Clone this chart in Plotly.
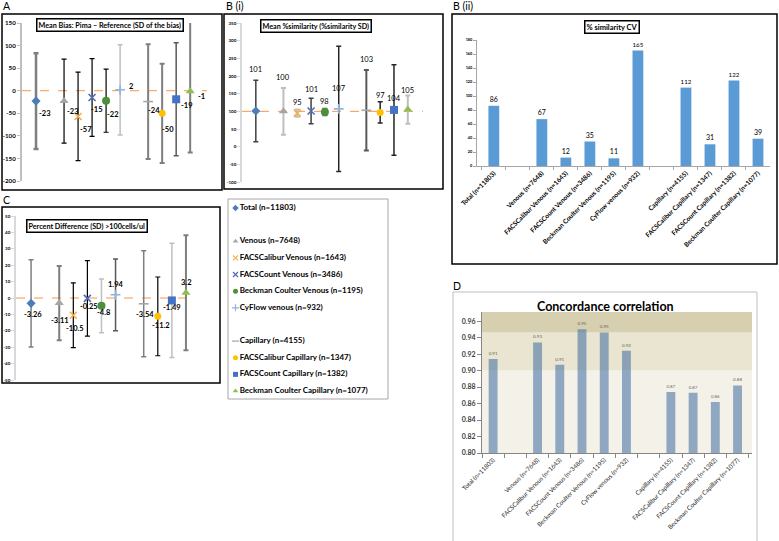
import plotly.graph_objects as go

W, H = 779, 541

# ---------------- data ----------------
categories = ["Total (n=11803)", " ", "Venous (n=7648)", "FACSCalibur Venous (n=1643)",
              "FACSCount Venous (n=3486)", "Beckman Coulter Venous (n=1195)", "CyFlow venous (n=932)",
              "  ", "Capillary (n=4155)", "FACSCalibur Capillary (n=1347)",
              "FACSCount Capillary (n=1382)", "Beckman Coulter Capillary (n=1077)"]

bias_mean = [-23, None, -23, -57, -15, -22, 2, None, -24, -50, -19, -1]
bias_sd_plus = [106, None, 93, 98, 86, 70, 100, None, 127, 110, 125, 160]
bias_sd_minus = [106, None, 93, 98, 86, 70, 100, None, 127, 110, 125, 136]

sim_mean = [101, None, 100, 95, 101, 98, 107, None, 103, 97, 104, 105]
sim_sd = [87, None, 66, 10, 36, 10, 177, None, 114, 30, 128, 40]

sim_cv = [86, None, 67, 12, 35, 11, 165, None, 112, 31, 122, 39]

pdiff_mean = [-3.26, None, -3.11, -10.5, -0.25, -4.8, 1.94, None, -3.54, -11.2, -1.49, 3.2]
pdiff_sd = [26.6, None, 22.6, 19.7, 23.0, 16.4, 21.9, None, 32.3, 24.0, 34.8, 35.0]

ccc = [0.914, None, 0.934, 0.907, 0.950, 0.946, 0.924, None, 0.874, 0.873, 0.862, 0.882]

ticks_a = [-200, -150, -100, -50, 0, 50, 100, 150]
ticks_b1 = [-100, -50, 0, 50, 100, 150, 200, 250, 300, 350]
ticks_b2 = [0, 20, 40, 60, 80, 100, 120, 140, 160, 180]
ticks_c = [-50, -40, -30, -20, -10, 0, 10, 20, 30, 40, 50]
ticks_d = [0.80, 0.82, 0.84, 0.86, 0.88, 0.90, 0.92, 0.94, 0.96]

# ---------------- styles ----------------
FONT = "Lato"
symbols = ["diamond", None, "triangle-up", "x-thin-open", "x-thin-open", "circle", "cross-thin-open",
           None, "line-ew-open", "circle", "square", "triangle-up"]
colors = ["#4a7ebb", None, "#a5a5a5", "#f4b04f", "#4f6bb5", "#4e8f3a", "#8db4e2",
          None, "#a5a5a5", "#ffc000", "#4472c4", "#8cc152"]
sizes = [7, None, 8, 7, 7, 8, 7, None, 7, 7, 8, 8]

errcol_a = ["#7f7f7f", None, "#000000", "#000000", "#000000", "#000000", "#bfbfbf", None,
            "#7f7f7f", "#7f7f7f", "#595959", "#7f7f7f"]
errw_a = [2.5, None, 1.2, 1.2, 1.2, 1.2, 1.5, None, 2, 2, 1.5, 2]
lab_a = [(1, -12), None, (1, -10), (0, -13), (-3, -12), (-1, -14), (7, 3), None, (-2, -9), (-2, -16), (3, -6), (6, -5)]

errcol_b = ["#404040", None, "#bfbfbf", "#bfbfbf", "#404040", "#595959", "#262626", None,
            "#595959", "#262626", "#262626", "#bfbfbf"]
errw_b = [1.5, None, 2, 2, 1.5, 1.5, 1.5, None, 2, 1.5, 1.5, 2]
lab_b = [41, None, 34, 11, 21, 11, 20, None, 51, 17, 11, 19]

errcol_c = ["#7f7f7f", None, "#7f7f7f", "#000000", "#000000", "#bfbfbf", "#595959", None,
            "#7f7f7f", "#000000", "#bfbfbf", "#7f7f7f"]
errw_c = [1.5, None, 2, 1.2, 1.2, 1.5, 1.5, None, 1.5, 1.2, 1.5, 2]
lab_c = [(2, -11), None, (1, -17), (2, -13), (2, -8), (3, -7), (0, 10), None, (1, -11), (3, -9), (0, -7), (0, 10)]


def X(a, b):
    return [a / W, b / W]


def Y(top, bottom):
    return [1 - bottom / H, 1 - top / H]


def px(x, y):
    return x / W, 1 - y / H


def fmt(v):
    return str(v).replace("\u2212", "-")


fig = go.Figure()
annotations = []
shapes = []

bold = dict(family=FONT, color="black", weight="bold")


def scatter_panel(xa, ya, means, sp, sm, ecol, ew):
    for i, cat in enumerate(categories):
        if means[i] is None:
            continue
        fig.add_trace(go.Scatter(
            x=[cat], y=[means[i]], xaxis=xa, yaxis=ya, mode="markers", showlegend=False,
            marker=dict(symbol=symbols[i], color=colors[i], size=sizes[i],
                        line=dict(color=colors[i], width=1.6 if "open" in symbols[i] else 0)),
            error_y=dict(type="data", array=[sp[i]], arrayminus=[sm[i]], color=ecol[i],
                         thickness=ew[i], width=2.5),
        ))


# ---- Panel A ----
scatter_panel("x", "y", bias_mean, bias_sd_plus, bias_sd_minus, errcol_a, errw_a)
for i, cat in enumerate(categories):
    if bias_mean[i] is None:
        continue
    annotations.append(dict(x=cat, y=bias_mean[i], xref="x", yref="y", text=fmt(bias_mean[i]),
                            showarrow=False, xanchor="left", xshift=lab_a[i][0], yshift=lab_a[i][1],
                            font=dict(size=7.5, **bold)))

# ---- Panel B(i) ----
scatter_panel("x2", "y2", sim_mean, sim_sd, sim_sd, errcol_b, errw_b)
for i, cat in enumerate(categories):
    if sim_mean[i] is None:
        continue
    annotations.append(dict(x=cat, y=sim_mean[i], xref="x2", yref="y2", text=fmt(sim_mean[i]),
                            showarrow=False, xanchor="center", yshift=lab_b[i],
                            font=dict(size=7.5, family=FONT, color="black")))

# ---- Panel B(ii) ----
fig.add_trace(go.Bar(
    x=categories, y=sim_cv, xaxis="x3", yaxis="y3", showlegend=False,
    marker=dict(color="#5b9bd5", line=dict(width=0)), width=0.45,
    text=[("" if v is None else str(v)) for v in sim_cv], textposition="outside",
    textfont=dict(size=7, family=FONT, color="black"), cliponaxis=False,
))

# ---- Panel C ----
scatter_panel("x4", "y4", pdiff_mean, pdiff_sd, pdiff_sd, errcol_c, errw_c)
for i, cat in enumerate(categories):
    if pdiff_mean[i] is None:
        continue
    annotations.append(dict(x=cat, y=pdiff_mean[i], xref="x4", yref="y4", text=fmt(pdiff_mean[i]),
                            showarrow=False, xanchor="center", xshift=lab_c[i][0], yshift=lab_c[i][1],
                            font=dict(size=7.5, **bold)))

# ---- Panel D ----
fig.add_trace(go.Bar(
    x=categories, y=ccc, xaxis="x5", yaxis="y5", showlegend=False,
    marker=dict(color="rgba(60,105,160,0.55)", line=dict(width=0)), width=0.4,
    texttemplate="%{y:.2f}", textposition="outside",
    textfont=dict(size=7.5, family=FONT, color="#666666"), cliponaxis=False,
))

# ---- Legend (drawn) ----
leg_idx = [i for i in range(len(categories)) if colors[i] is not None]
fig.add_trace(go.Scatter(
    x=[0] * len(leg_idx), y=[i for i in leg_idx], xaxis="x6", yaxis="y6", mode="markers+text",
    showlegend=False, text=[categories[i] for i in leg_idx], textposition="middle right",
    textfont=dict(size=8, **bold),
    marker=dict(symbol=[symbols[i] for i in leg_idx], color=[colors[i] for i in leg_idx],
                size=5, line=dict(color=[colors[i] for i in leg_idx],
                                  width=[1.2 if "open" in symbols[i] else 0 for i in leg_idx])),
))

# ---------------- axes ----------------
hidden_x = dict(type="category", categoryorder="array", categoryarray=categories, automargin=False,
                showticklabels=False, showline=False, showgrid=False, zeroline=False, ticks="")


def yax(domain, rng, tv, size, linecolor="#bfbfbf", lw=2, tfmt=str, color="black"):
    return dict(domain=domain, range=rng, tickmode="array", tickvals=tv, automargin=False,
                ticktext=[tfmt(v) for v in tv], showgrid=False, zeroline=False,
                showline=True, linecolor=linecolor, linewidth=lw, ticks="outside", ticklen=3,
                tickcolor=linecolor, tickfont=dict(size=size, family=FONT, color=color, weight="bold"))


fig.update_layout(
    template="none",
    xaxis=dict(domain=X(22, 207), range=[-1, 12.2], anchor="y", **hidden_x),
    yaxis=dict(anchor="x", **yax(Y(23, 181), [-200, 150], ticks_a, 6.2)),
    xaxis2=dict(domain=X(242, 423), range=[-1, 12.1], anchor="y2", **hidden_x),
    yaxis2=dict(anchor="x2", **yax(Y(23, 182), [-100, 350], ticks_b1, 4.5, "#d9d9d9", 1.5)),
    xaxis3=dict(domain=X(477, 770), range=[-0.7, 11.5], anchor="y3", type="category",
                categoryorder="array", categoryarray=categories, tickson="boundaries",
                automargin=False, ticks="outside", ticklen=3, tickcolor="#a6a6a6", showline=True,
                linecolor="#a6a6a6", linewidth=1, tickangle=-45, tickfont=dict(size=6.5, **bold),
                showgrid=False, zeroline=False),
    yaxis3=dict(anchor="x3", **yax(Y(40, 166), [0, 180], ticks_b2, 3.8, "#a6a6a6", 1)),
    xaxis4=dict(domain=X(16, 193), range=[-1.07, 11.5], anchor="y4", **hidden_x),
    yaxis4=dict(anchor="x4", **yax(Y(216, 380), [-50, 50], ticks_c, 4.5, "#d9d9d9", 1.5)),
    xaxis5=dict(domain=X(482, 752), range=[-0.5, 11.65], anchor="y5", type="category",
                categoryorder="array", categoryarray=categories, tickson="boundaries",
                automargin=False, ticks="outside", ticklen=4, tickcolor="#868686", showline=True,
                linecolor="#868686", linewidth=1, tickangle=-45,
                tickfont=dict(size=6.2, family=FONT, color="#262626"), showgrid=False, zeroline=False),
    yaxis5=dict(anchor="x5", **yax(Y(312, 453), [0.80, 0.971], ticks_d, 7, "#868686", 1,
                                   lambda v: f"{v:.2f}", "#404040")),
    xaxis6=dict(domain=X(228, 388), range=[-7.5, 152.5], visible=False, anchor="y6", automargin=False),
    yaxis6=dict(domain=Y(199, 399), range=[11.48, -0.54], visible=False, anchor="x6", automargin=False),
)
fig.update_layout(yaxis5=dict(ticklen=4))

# ---------------- shapes ----------------
def frame(x0, y0, x1, y1, color="black", width=1.5):
    a0, b0 = px(x0, y0)
    a1, b1 = px(x1, y1)
    shapes.append(dict(type="rect", xref="paper", yref="paper", x0=a0, y0=b1, x1=a1, y1=b0,
                       line=dict(color=color, width=width), fillcolor="rgba(0,0,0,0)", layer="above"))


# D background bands
for y0, y1, c in [(0.80, 0.90, "#f4f2e8"), (0.90, 0.946, "#e9e5d0"), (0.946, 0.971, "#d6d0b0")]:
    shapes.append(dict(type="rect", xref="x5 domain", yref="y5", x0=0, x1=1, y0=y0, y1=y1,
                       fillcolor=c, line=dict(width=0), layer="below"))

# reference lines
for xr, yr, v in [("x domain", "y", 0), ("x2 domain", "y2", 100), ("x4 domain", "y4", 0)]:
    shapes.append(dict(type="line", xref=xr, yref=yr, x0=0, x1=1, y0=v, y1=v,
                       line=dict(color="#f79646", width=1, dash="dash"), layer="below"))

frame(2, 14, 222, 190)
frame(224, 14, 443, 189)
frame(452, 14, 777, 264)
frame(2, 207, 220, 383)
frame(228, 199, 388, 399, "#a6a6a6", 1)
frame(453, 292, 757, 546, "#bfbfbf", 1)

# ---------------- titles / labels ----------------
def paper_text(x, y, text, size, boxed=False, weight="bold", xanchor="center", color="black"):
    a, b = px(x, y)
    d = dict(x=a, y=b, xref="paper", yref="paper", text=text, showarrow=False,
             xanchor=xanchor, yanchor="middle",
             font=dict(size=size, family=FONT, color=color, weight=weight))
    if boxed:
        d.update(bordercolor="black", borderwidth=1.5, bgcolor="white", borderpad=1)
    annotations.append(d)


paper_text(110, 25, "Mean Bias: Pima – Reference (SD of the bias)", 7.2, boxed=True)
paper_text(316, 25.5, "Mean %similarity (%similarity SD)", 7.2, boxed=True)
paper_text(612, 27.5, "% similarity CV", 7.5, boxed=True)
paper_text(86.5, 226, "Percent Difference (SD) >100cells/ul", 7.2, boxed=True)
paper_text(605, 306, "Concordance correlation", 12.5)

paper_text(1, 6, "A", 10.5, xanchor="left", weight="normal")
paper_text(224, 6, "B (i)", 10.5, xanchor="left", weight="normal")
paper_text(451, 6, "B (ii)", 10.5, xanchor="left", weight="normal")
paper_text(1, 200, "C", 10.5, xanchor="left", weight="normal")
paper_text(451, 286, "D", 10.5, xanchor="left", weight="normal")

fig.update_layout(
    width=W, height=H, autosize=False, margin=dict(l=0, r=0, t=0, b=0, pad=0),
    paper_bgcolor="white", plot_bgcolor="rgba(0,0,0,0)",
    annotations=annotations, shapes=shapes, showlegend=False,
    font=dict(family=FONT),
)

fig.write_html("out.html", config={"displayModeBar": False},
               post_script="document.body.style.margin='0px';document.body.style.overflow='hidden';")
